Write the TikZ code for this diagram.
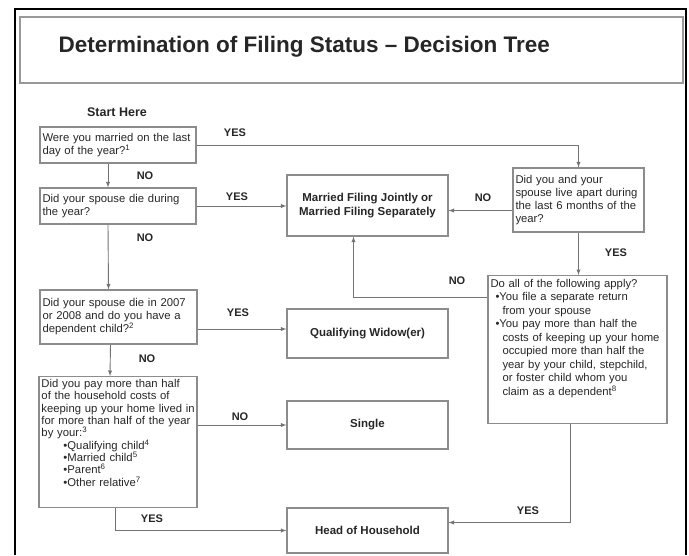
\documentclass[tikz,border=0pt]{standalone}
\usepackage{fontspec}
\setmainfont{Liberation Sans}
\usetikzlibrary{arrows}

\begin{document}
\begin{tikzpicture}[x=1pt, y=-1pt, >=latex,
	box/.style={draw=black!45, line width=1.2pt, inner sep=2.5pt, text=black!85},
	question/.style={box, align=left, font=\fontsize{11.3}{13}\selectfont},
	outcome/.style={box, align=center, minimum width=161pt, font=\fontsize{11.5}{14.5}\selectfont\bfseries},
	answer/.style={font=\fontsize{11}{13}\selectfont\bfseries, text=black!85},
	link/.style={draw=black!55, line width=0.9pt}]
	\useasboundingbox (0,0) rectangle (689,555);
	% frame and title
	\draw[black, line width=1.5pt] (15,555) -- (15,9) -- (686,9) -- (686,555);
	\draw[black!40, line width=1.5pt] (20,17) rectangle (683,83);
	\node[anchor=west, font=\fontsize{22.5}{26}\selectfont\bfseries, text=black!85] (title) at (55,47) {Determination of Filing Status -- Decision Tree};
	% questions on the left
	\node[answer, font=\fontsize{12.5}{15}\selectfont\bfseries] (start) at (117,112) {Start Here};
	\node[question, text width=151pt, minimum height=36pt] (q1) at (118,145) {Were you married on the last\\day of the year?\textsuperscript{1}};
	\node[question, text width=151pt, minimum height=36pt] (q2) at (118,206) {Did your spouse die during\\the year?};
	\node[question, text width=152pt, minimum height=54pt] (q3) at (118.5,317) {Did your spouse die in 2007\\or 2008 and do you have a\\dependent child?\textsuperscript{2}};
	\node[question, text width=153pt, anchor=north, text height=8.5pt, text depth=117.5pt, font=\fontsize{11.3}{12.3}\selectfont] (q4) at (118,376) {Did you pay more than half\\of the household costs of\\\mbox{keeping up your home lived in}\\for more than half of the year\\by your:\textsuperscript{3}\\
		\hspace*{22pt}\textbullet Qualifying child\textsuperscript{4}\\
		\hspace*{22pt}\textbullet Married child\textsuperscript{5}\\
		\hspace*{22pt}\textbullet Parent\textsuperscript{6}\\
		\hspace*{22pt}\textbullet Other relative\textsuperscript{7}};
	% outcomes in the middle
	\node[outcome, minimum height=61pt] (mfj) at (367.5,205.5) {Married Filing Jointly or\\Married Filing Separately};
	\node[outcome, minimum height=49pt] (qw) at (367.5,333.5) {Qualifying Widow(er)};
	\node[outcome, minimum height=48pt] (single) at (367.5,425) {Single};
	\node[outcome, minimum height=45pt] (hoh) at (367.5,530.5) {Head of Household};
	% questions on the right
	\node[question, text width=126pt, minimum height=64pt] (r1) at (578.5,200) {Did you and your\\spouse live apart during\\the last 6 months of the\\year?};
	\node[question, text width=174pt, anchor=north, text height=9pt, text depth=134pt, font=\fontsize{11.3}{13.5}\selectfont] (r2) at (577.5,275) {Do all of the following apply?\\
		\hspace*{5pt}\textbullet You file a separate return\\
		\hspace*{12pt}from your spouse\\
		\hspace*{5pt}\textbullet You pay more than half the\\
		\hspace*{12pt}costs of keeping up your home\\
		\hspace*{12pt}occupied more than half the\\
		\hspace*{12pt}year by your child, stepchild,\\
		\hspace*{12pt}or foster child whom you\\
		\hspace*{12pt}claim as a dependent\textsuperscript{8}};
	% where the lines meet the boxes
	\coordinate (q3out) at (0,329);
	\coordinate (mfjin) at ([yshift=-5pt]mfj.east);
	\coordinate (mfjup) at ([xshift=-14pt]mfj.south);
	\coordinate (r2out) at ([yshift=-22pt]r2.north west);
	\coordinate (hohin) at ([yshift=8pt]hoh.east);
	% connectors
	\draw[link, ->] (q1) -| (r1);
	\draw[link, ->] ([xshift=-10pt]q1.south) -- ([xshift=-10pt]q2.north);
	\draw[link, ->] (q2.east) -- (q2.east -| mfj.west);
	\draw[link, ->] ([xshift=-10pt]q2.south) -- ([xshift=-10pt]q3.north);
	\draw[link, ->] (q3.east |- q3out) -- (qw.west |- q3out);
	\draw[link, ->] ([xshift=-8pt]q3.south) -- ([xshift=-8pt]q4.north);
	\draw[link, ->] (q4.east |- single.west) -- (single.west);
	\draw[link, ->] ([xshift=-3pt]q4.south) |- (hoh);
	\draw[link, ->] (r1.west |- mfjin) -- (mfjin);
	\draw[link, ->] (r1.south) -- (r1.south |- r2.north);
	\draw[link, ->] (r2out) -| (mfjup);
	\draw[link, ->] ([xshift=-7.5pt]r2.south) |- (hohin);
	% yes and no
	\node[answer] (yes1) at (235,133) {YES};
	\node[answer] (no1) at (145,176) {NO};
	\node[answer] (yes2) at (237,197) {YES};
	\node[answer] (no2) at (145,238) {NO};
	\node[answer] (yes3) at (238,313) {YES};
	\node[answer] (no3) at (147,359) {NO};
	\node[answer] (no4) at (240,417) {NO};
	\node[answer] (yes4) at (152,519) {YES};
	\node[answer] (no5) at (483,198) {NO};
	\node[answer] (yes5) at (616,253) {YES};
	\node[answer] (no6) at (457,281) {NO};
	\node[answer] (yes6) at (528,511) {YES};
\end{tikzpicture}
\end{document}
